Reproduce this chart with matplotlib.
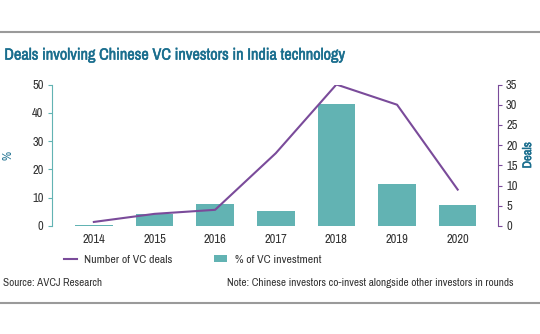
import matplotlib.pyplot as plt
import matplotlib.patheffects as pe
import numpy as np
from matplotlib import font_manager
from matplotlib.lines import Line2D
from matplotlib.patches import Patch

# prefer a narrow face if one is installed
narrow = sorted({f.name for f in font_manager.fontManager.ttflist
                 if "Narrow" in f.name or "Condensed" in f.name})
if narrow:
    plt.rcParams["font.family"] = [narrow[0], "DejaVu Sans"]
    SCALE = 1.0
else:
    plt.rcParams["font.family"] = ["Roboto", "DejaVu Sans"]
    SCALE = 0.85

years = ["2014", "2015", "2016", "2017", "2018", "2019", "2020"]
pct_investment = [0.3, 4.2, 7.8, 5.3, 43.2, 15.0, 7.5]
num_deals = [1, 3, 4, 18, 35, 30, 9]

TEAL = "#62b3b3"
PURPLE = "#7a4b9a"
TITLE = "#1a6e8e"
TEXT = "#333333"

fig = plt.figure(figsize=(5.4, 3.34), dpi=100)
ax = fig.add_axes([0.0963, 0.3234, 0.8254, 0.4236])
ax2 = ax.twinx()

x = np.arange(len(years))
ax.bar(x, pct_investment, width=0.62, color=TEAL, zorder=2)
ax2.plot(x, num_deals, color=PURPLE, lw=1.5, zorder=3)

ax.set_xlim(-0.69, 6.66)
ax.set_ylim(0, 50)
ax2.set_ylim(0, 35)
ax.set_yticks(range(0, 51, 10))
ax2.set_yticks(range(0, 36, 5))
ax.set_xticks(x)
ax.set_xticklabels(years)

for a in (ax, ax2):
    for s in ("top", "bottom"):
        a.spines[s].set_visible(False)
ax.spines["right"].set_visible(False)
ax2.spines["left"].set_visible(False)
ax.spines["left"].set_color(TEAL)
ax2.spines["right"].set_color(PURPLE)

fs = 9 * SCALE
ax.tick_params(axis="x", length=0, pad=6, labelsize=fs, labelcolor=TEXT)
ax.tick_params(axis="y", length=3, color=TEAL, labelsize=fs, labelcolor=TEXT, pad=3)
ax2.tick_params(axis="y", length=3, color=PURPLE, labelsize=fs, labelcolor=TEXT, pad=3)

# faux-bold for headings, the narrow face has no bold cut
heavy = [pe.withStroke(linewidth=0.35, foreground=TITLE)]

fig.text(0.015, 0.535, "%", rotation=90, color=TITLE, fontsize=fs,
         ha="center", va="center")
fig.text(0.977, 0.535, "Deals", rotation=90, color=TITLE, fontsize=fs,
         fontweight="bold", ha="center", va="center", path_effects=heavy)

fig.text(0.008, 0.835, "Deals involving Chinese VC investors in India technology",
         color=TITLE, fontsize=11.7 * SCALE, fontweight="bold", ha="left",
         va="center", path_effects=heavy)

# rules above and below the chart block
for yy in (0.904, 0.093):
    fig.add_artist(Line2D([0, 1], [yy, yy], transform=fig.transFigure,
                          color="#9a9a9a", lw=1.5))

handles = [Line2D([0], [0], color=PURPLE, lw=1.5),
           Patch(facecolor=TEAL)]
fig.legend(handles, ["Number of VC deals", "% of VC investment"],
           loc="center left", bbox_to_anchor=(0.098, 0.222), ncol=2,
           frameon=False, fontsize=8.5 * SCALE, handlelength=1.1, handleheight=0.6,
           handletextpad=0.6, columnspacing=3.6, labelcolor=TEXT)

fig.text(0.005, 0.153, "Source: AVCJ Research", fontsize=8 * SCALE, color=TEXT,
         ha="left", va="center")
fig.text(0.951, 0.153,
         "Note: Chinese investors co-invest alongside other investors in rounds",
         fontsize=8.1 * SCALE, color=TEXT, ha="right", va="center")

fig.savefig("out.png", dpi=100, facecolor="white")
